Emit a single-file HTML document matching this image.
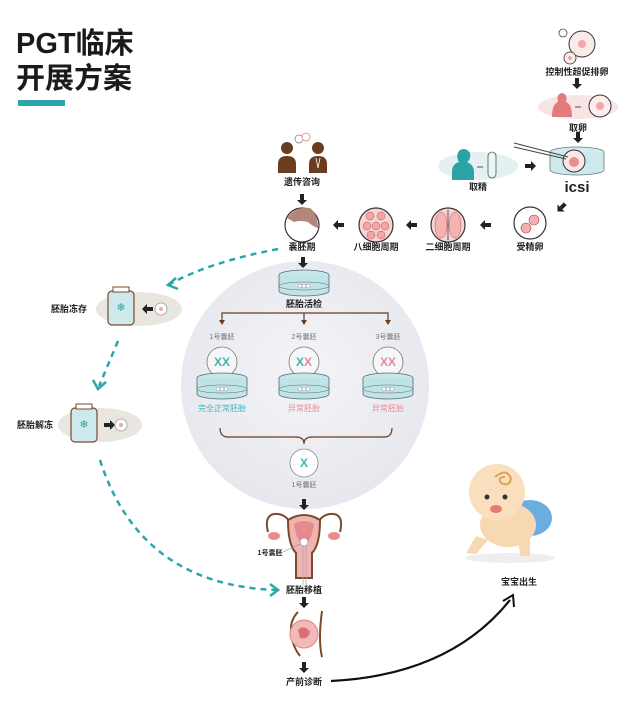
<!DOCTYPE html>
<html><head><meta charset="utf-8"><style>
body{margin:0;background:#fff;}
svg{display:block;font-family:"Liberation Sans","Noto Sans CJK SC",sans-serif;}
.l{font-size:9px;font-weight:bold;fill:#222;text-anchor:middle;}
.s{font-size:7px;fill:#777;text-anchor:middle;}
</style></head><body>
<svg width="638" height="702" viewBox="0 0 638 702">
<defs>
<radialGradient id="bg" cx="50%" cy="45%" r="55%"><stop offset="0" stop-color="#f3f4f7"/><stop offset="1" stop-color="#e6e8ee"/></radialGradient>
<g id="dn"><rect x="-2" y="-6" width="4" height="6" fill="#222"/><path d="M-5,0 L5,0 L0,5 Z" fill="#222"/></g>
<g id="lf"><rect x="0" y="-2" width="6" height="4" fill="#222"/><path d="M0,-5 L0,5 L-5,0 Z" fill="#222"/></g>
<g id="dish">
<ellipse cx="0" cy="-8" rx="25" ry="5" fill="#c9e7ea" stroke="#5a6a70" stroke-width="0.8"/>
<path d="M-25,-8 L-25,8 A25,5 0 0 0 25,8 L25,-8" fill="#bfe3e6" stroke="#5a6a70" stroke-width="0.8"/>
<ellipse cx="0" cy="3" rx="25" ry="4" fill="none" stroke="#5a6a70" stroke-width="0.5"/>
<circle cx="-4" cy="3" r="2" fill="#fff" stroke="#777" stroke-width="0.4"/><circle cx="0" cy="3" r="2" fill="#fff" stroke="#777" stroke-width="0.4"/><circle cx="4" cy="3" r="2" fill="#fff" stroke="#777" stroke-width="0.4"/>
</g>
</defs>
<rect width="638" height="702" fill="#fff"/>
<!-- title -->
<text x="16" y="53" font-size="29" font-weight="bold" fill="#1a1a1a">PGT临床</text>
<text x="16" y="88" font-size="29" font-weight="bold" fill="#1a1a1a">开展方案</text>
<rect x="18" y="100" width="47" height="6" fill="#2ea5a8"/>

<!-- big circle -->
<circle cx="305" cy="385" r="124" fill="url(#bg)"/>

<!-- eggs top right -->
<circle cx="563" cy="33" r="4" fill="#fff" stroke="#444" stroke-width="0.8"/>
<circle cx="582" cy="44" r="13" fill="#fbeaea" stroke="#333" stroke-width="1"/><circle cx="582" cy="44" r="4" fill="#f2a7aa"/>
<circle cx="570" cy="58" r="6" fill="#fbeaea" stroke="#333" stroke-width="0.8"/><circle cx="570" cy="58" r="2" fill="#f2a7aa"/>
<text class="l" x="577" y="75">控制性超促排卵</text>
<use href="#dn" x="577" y="84"/>
<ellipse cx="578" cy="107" rx="40" ry="12" fill="#f7e4e4"/>
<path d="M552,117 Q552,104 558,102 Q556,94 562,93 Q568,94 566,102 Q572,104 572,117Z" fill="#e47a7d"/>
<path d="M575,107 L581,107" stroke="#555" stroke-width="1"/>
<circle cx="600" cy="106" r="11" fill="#fdeeee" stroke="#333" stroke-width="1"/><circle cx="600" cy="106" r="4" fill="#f2a7aa"/>
<text class="l" x="578" y="131">取卵</text>
<use href="#dn" x="578" y="138"/>
<ellipse cx="577" cy="152" rx="27" ry="5" fill="#d3ecee" stroke="#6a7a80" stroke-width="0.8"/>
<path d="M550,152 L550,170 A27,5 0 0 0 604,170 L604,152" fill="#cde9ec" stroke="#6a7a80" stroke-width="0.8"/>
<circle cx="574" cy="161" r="11" fill="#fde6e6" stroke="#333" stroke-width="1"/><circle cx="574" cy="162" r="5" fill="#e98d90"/>
<path d="M514,143 L568,157 M514,147 L566,159" stroke="#444" stroke-width="1"/>
<text x="577" y="192" font-size="15" font-weight="bold" fill="#222" text-anchor="middle">icsi</text>

<!-- 取精 -->
<ellipse cx="478" cy="166" rx="40" ry="14" fill="#e4f0f2"/>
<path d="M452,180 L452,172 Q452,164 459,162 Q455,155 460,150 Q466,147 470,153 Q471,160 467,162 Q474,165 474,172 L474,180Z" fill="#2aa3a6"/>
<path d="M477,167 L483,167" stroke="#555" stroke-width="1"/>
<rect x="488" y="152" width="8" height="26" rx="4" fill="#eaf5f6" stroke="#555" stroke-width="0.8"/>
<text class="l" x="478" y="190">取精</text>
<use href="#lf" transform="translate(531,166) rotate(180)"/>
<use href="#lf" transform="translate(561,208) rotate(-45)"/>

<!-- embryo row -->
<circle cx="530" cy="223" r="16" fill="#fff" stroke="#333" stroke-width="1.2"/>
<circle cx="526" cy="228" r="5" fill="#f3b0b2" stroke="#a44" stroke-width="0.6"/><circle cx="534" cy="220" r="5" fill="#f3b0b2" stroke="#a44" stroke-width="0.6"/>
<text class="l" x="530" y="250">受精卵</text>
<use href="#lf" x="485" y="225"/>
<circle cx="448" cy="225" r="17" fill="#f8d4d4" stroke="#333" stroke-width="1.2"/>
<path d="M448,210 L448,240" stroke="#333" stroke-width="0.8"/>
<ellipse cx="441" cy="225" rx="6" ry="13" fill="#f4b4b4" stroke="#b55" stroke-width="0.5"/><ellipse cx="455" cy="225" rx="6" ry="13" fill="#f4b4b4" stroke="#b55" stroke-width="0.5"/>
<text class="l" x="448" y="250">二细胞周期</text>
<use href="#lf" x="411" y="225"/>
<circle cx="376" cy="225" r="17" fill="#f8d4d4" stroke="#333" stroke-width="1.2"/>
<g fill="#f2a6a6" stroke="#b55" stroke-width="0.5">
<circle cx="370" cy="216" r="4"/><circle cx="381" cy="216" r="4"/><circle cx="367" cy="226" r="4"/><circle cx="376" cy="226" r="4"/><circle cx="385" cy="226" r="4"/><circle cx="371" cy="235" r="4"/><circle cx="381" cy="235" r="4"/></g>
<text class="l" x="376" y="250">八细胞周期</text>
<use href="#lf" x="338" y="225"/>
<circle cx="302" cy="225" r="17" fill="#fff" stroke="#333" stroke-width="1.2"/>
<path d="M287,218 Q295,206 310,208 Q318,214 318,228 Q312,226 308,222 Q300,220 294,222 Z" fill="#b3867a"/>
<text class="l" x="302" y="250">囊胚期</text>

<!-- genetic counseling -->
<g fill="#6b3d1f">
<circle cx="287" cy="148" r="6"/><path d="M278,173 L278,164 Q278,156 287,156 Q296,156 296,164 L296,173Z"/>
<circle cx="318" cy="148" r="6"/><path d="M309,173 L309,164 Q309,156 318,156 Q327,156 327,164 L327,173Z"/>
</g>
<path d="M316,158 L318,168 L320,158" stroke="#fff" stroke-width="0.8" fill="none"/>
<circle cx="299" cy="139" r="4" fill="#fff" stroke="#777" stroke-width="0.7"/><circle cx="306" cy="137" r="4" fill="#fff" stroke="#d77" stroke-width="0.7"/>
<text class="l" x="302" y="185">遗传咨询</text>
<use href="#dn" x="302" y="200"/>
<use href="#dn" x="303" y="263"/>

<!-- biopsy -->
<use href="#dish" x="304" y="283"/>
<text class="l" x="304" y="307">胚胎活检</text>
<path d="M222,322 L222,313 L388,313 L388,322 M304,313 L304,322" stroke="#6b3d1f" stroke-width="1.2" fill="none"/>
<path d="M219,320 L225,320 L222,325Z M301,320 L307,320 L304,325Z M385,320 L391,320 L388,325Z" fill="#6b3d1f"/>
<text class="s" x="222" y="339">1号囊胚</text><text class="s" x="304" y="339">2号囊胚</text><text class="s" x="388" y="339">3号囊胚</text>
<g stroke="#777" stroke-width="0.8" fill="#f6f7f9">
<circle cx="222" cy="362" r="15"/><circle cx="304" cy="362" r="15"/><circle cx="388" cy="362" r="15"/></g>
<g font-size="12" font-weight="bold" text-anchor="middle">
<text x="222" y="366" fill="#3fb3b6">XX</text>
<text x="300" y="366" fill="#3fb3b6">X</text><text x="308" y="366" fill="#e78a9a">X</text>
<text x="388" y="366" fill="#e78a9a">XX</text></g>
<use href="#dish" x="222" y="386"/><use href="#dish" x="304" y="386"/><use href="#dish" x="388" y="386"/>
<text x="222" y="411" font-size="8" fill="#3fb3b6" text-anchor="middle">完全正常胚胎</text>
<text x="304" y="411" font-size="8" fill="#e78a9a" text-anchor="middle">异常胚胎</text>
<text x="388" y="411" font-size="8" fill="#e78a9a" text-anchor="middle">异常胚胎</text>
<path d="M220,428 Q220,437 228,437 L296,437 Q304,437 304,444 Q304,437 312,437 L384,437 Q392,437 392,428" stroke="#6b3d1f" stroke-width="1.2" fill="none"/>
<circle cx="304" cy="463" r="14" fill="#fff" stroke="#888" stroke-width="0.8"/>
<text x="304" y="467" font-size="12" font-weight="bold" fill="#3fb3b6" text-anchor="middle">X</text>
<text class="s" x="304" y="487">1号囊胚</text>
<use href="#dn" x="304" y="505"/>

<!-- uterus -->
<g stroke="#7a4a2a" stroke-width="2" fill="none">
<path d="M268,532 Q264,516 274,514 Q284,513 290,522" />
<path d="M340,532 Q344,516 334,514 Q324,513 318,522"/></g>
<path d="M288,520 Q304,510 320,520 Q320,545 312,553 L312,578 L296,578 L296,553 Q288,545 288,520Z" fill="#f0b3b3" stroke="#7a4a2a" stroke-width="2"/>
<path d="M294,524 Q304,518 314,524 Q312,540 304,546 Q296,540 294,524Z" fill="#e48a8a"/>
<ellipse cx="274" cy="536" rx="6" ry="4" fill="#e98d8d"/><ellipse cx="334" cy="536" rx="6" ry="4" fill="#e98d8d"/>
<circle cx="304" cy="542" r="4" fill="#fff" stroke="#888" stroke-width="0.6"/>
<path d="M303,546 L303,585 M306,546 L306,585" stroke="#aaa" stroke-width="0.8"/>
<path d="M283,552 L300,544" stroke="#888" stroke-width="0.6"/>
<text x="270" y="555" font-size="7" font-weight="bold" fill="#222" text-anchor="middle">1号囊胚</text>
<text class="l" x="304" y="593">胚胎移植</text>
<use href="#dn" x="304" y="603"/>
<!-- belly -->
<path d="M298,612 Q290,620 291,632 Q292,646 300,656" stroke="#7a4a2a" stroke-width="2" fill="none"/>
<path d="M322,611 Q318,640 322,657" stroke="#7a4a2a" stroke-width="2" fill="none"/>
<circle cx="304" cy="634" r="14" fill="#f3b8b8" stroke="#d88" stroke-width="1"/>
<path d="M298,630 Q304,624 310,632 Q308,640 300,638Z" fill="#d96f75"/>
<use href="#dn" x="304" y="668"/>
<text class="l" x="304" y="685">产前诊断</text>
<path d="M331,681 Q450,675 510,600" stroke="#111" stroke-width="2.2" fill="none"/>
<path d="M503,601 L513,595 L514,607" stroke="#111" stroke-width="2" fill="none"/>

<!-- baby -->
<ellipse cx="510" cy="558" rx="45" ry="5" fill="#eee"/>
<ellipse cx="530" cy="518" rx="22" ry="18" fill="#6aaee0"/>
<ellipse cx="508" cy="525" rx="28" ry="22" fill="#f7d8b3"/>
<path d="M476,536 L466,553 L476,554 L488,540Z M518,536 L520,556 L530,556 L530,536Z" fill="#f7d8b3"/>
<circle cx="497" cy="492" r="28" fill="#f9dfbd"/>
<path d="M495,477 Q507,467 511,479 Q509,487 501,483 Q497,477 505,477" stroke="#e0a050" stroke-width="2" fill="none"/>
<circle cx="487" cy="497" r="2.5" fill="#333"/><circle cx="505" cy="497" r="2.5" fill="#333"/>
<ellipse cx="496" cy="509" rx="6" ry="4" fill="#e87a7a"/>
<text class="l" x="519" y="585">宝宝出生</text>

<!-- freeze / thaw -->
<ellipse cx="139" cy="309" rx="43" ry="17" fill="#e9e6e0"/>
<rect x="108" y="291" width="26" height="34" rx="4" fill="#cde9ec" stroke="#7a4a2a" stroke-width="1.2"/>
<rect x="113" y="287" width="16" height="5" fill="#fff" stroke="#7a4a2a" stroke-width="1"/>
<text x="121" y="311" font-size="11" fill="#2aa3a6" text-anchor="middle">❄</text>
<use href="#lf" x="147" y="309"/>
<circle cx="161" cy="309" r="6" fill="#fff" stroke="#999" stroke-width="0.8"/><circle cx="161" cy="309" r="2" fill="#f2a7aa"/>
<text class="l" x="69" y="312">胚胎冻存</text>
<ellipse cx="100" cy="425" rx="42" ry="17" fill="#e9e6e0"/>
<rect x="71" y="408" width="26" height="34" rx="4" fill="#cde9ec" stroke="#7a4a2a" stroke-width="1.2"/>
<rect x="76" y="404" width="16" height="5" fill="#fff" stroke="#7a4a2a" stroke-width="1"/>
<text x="84" y="428" font-size="11" fill="#2aa3a6" text-anchor="middle">❄</text>
<use href="#lf" transform="translate(110,425) rotate(180)"/>
<circle cx="121" cy="425" r="6" fill="#fff" stroke="#999" stroke-width="0.8"/><circle cx="121" cy="425" r="2" fill="#f2a7aa"/>
<text class="l" x="35" y="428">胚胎解冻</text>

<!-- dashed teal -->
<g stroke="#2ea5a8" stroke-width="2.5" fill="none" stroke-dasharray="6,5">
<path d="M278,249 Q210,262 170,284"/>
<path d="M118,341 Q108,365 99,386"/>
<path d="M100,460 Q140,585 276,590"/>
</g>
<g stroke="#2ea5a8" stroke-width="2.5" fill="none">
<path d="M176,278 L168,285 L178,289"/>
<path d="M93,380 L98,389 L106,382"/>
<path d="M270,584 L278,590 L270,596"/>
</g>
</svg>
</body></html>
